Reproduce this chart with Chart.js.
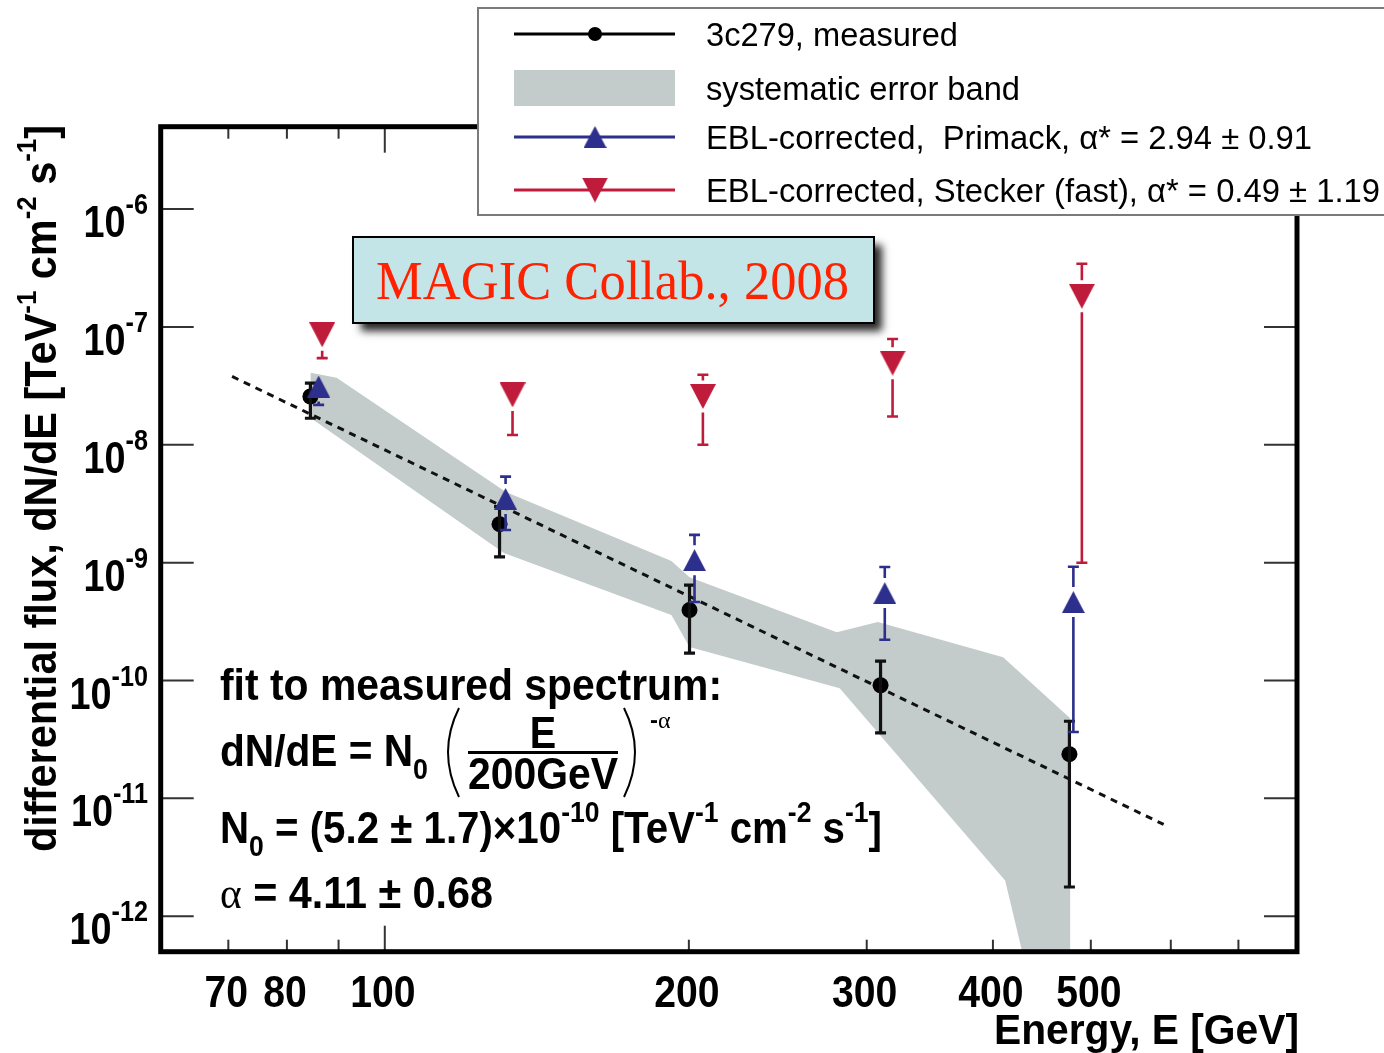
<!DOCTYPE html>
<html><head><meta charset="utf-8">
<script src="https://cdn.jsdelivr.net/npm/chart.js@4.4.1/dist/chart.umd.min.js"></script>
<style>html,body{margin:0;padding:0;background:#fff;}#c{display:block;}</style>
</head><body>
<canvas id="c" width="1384" height="1053" style="width:1384px;height:1053px"></canvas>
<script>
// ---------------- data ----------------
const xTickValues = [70, 80, 90, 100, 200, 300, 400, 500, 600, 700];
const xTickLabels = ['70', '80', '', '100', '200', '300', '400', '500', '', ''];
const yTickExponents = [-6, -7, -8, -9, -10, -11, -12];

const measuredE    = [84.4, 129.9, 200.3, 309.6, 476.2];
const measuredFlux = [2.57e-8, 2.12e-9, 3.96e-10, 9.12e-11, 2.37e-11];
const measuredHi   = [3.34e-8, 2.99e-9, 6.45e-10, 1.46e-10, 4.51e-11];
const measuredLo   = [1.68e-8, 1.12e-9, 1.71e-10, 3.59e-11, 1.77e-12];

const primackE    = [86.0, 131.7, 202.6, 312.6, 480.5];
const primackFlux = [3.12e-8, 3.47e-9, 1.05e-9, 5.52e-10, 4.63e-10];
const primackHi   = [3.78e-8, 5.37e-9, 1.72e-9, 9.18e-10, 9.23e-10];
const primackLo   = [2.18e-8, 1.89e-9, 4.63e-10, 2.22e-10, 3.66e-11];

const steckerE    = [86.7, 133.8, 206.5, 318.2, 489.9];
const steckerFlux = [8.58e-8, 2.65e-8, 2.57e-8, 4.93e-8, 1.82e-7];
const steckerHi   = [9.4e-8, 3.56e-8, 3.93e-8, 7.89e-8, 3.44e-7];
const steckerLo   = [5.44e-8, 1.21e-8, 1.0e-8, 1.74e-8, 9.98e-10];

const bandE    = [84.45, 89.6, 131.8, 192.2, 200.3, 280.2, 307.7, 409.4, 477.0, 477.0, 427.6, 411.3, 282.1, 200.3, 192.2, 131.2, 84.45];
const bandFlux = [4.08e-8, 3.70e-8, 3.98e-9, 1.032e-9, 7.53e-10, 2.57e-10, 3.13e-10, 1.578e-10, 4.78e-11, 5e-13, 5e-13, 2.01e-12, 8.6e-11, 1.92e-10, 3.59e-10, 1.206e-9, 1.69e-8];

const fitE    = [70.6, 590.3];
const fitFlux = [3.80e-8, 6.01e-12];

const legendLabels = [
  '3c279, measured',
  'systematic error band',
  'EBL-corrected,  Primack, \u03b1* = 2.94 \u00b1 0.91',
  'EBL-corrected, Stecker (fast), \u03b1* = 0.49 \u00b1 1.19'
];

// ---------------- styles ----------------
const COL = { black: '#000000', blue: '#2c2f8c', red: '#bf1b3b', band: '#c3cbcb',
  magicFill: '#c4e5e7', magicText: '#ff2200', tick: '#333333' };
const SANS = '"Liberation Sans", Arial, Helvetica, sans-serif';
const SERIF = '"Liberation Serif", "Times New Roman", serif';
const F = (size, bold) => (bold ? 'bold ' : '') + size + 'px ' + SANS;

function triCanvas(color, w, h, down) {
  const c = document.createElement('canvas'); c.width = w; c.height = h;
  const g = c.getContext('2d'); g.fillStyle = color; g.beginPath();
  if (!down) { g.moveTo(w / 2, 0); g.lineTo(w, h); g.lineTo(0, h); }
  else { g.moveTo(0, 0); g.lineTo(w, 0); g.lineTo(w / 2, h); }
  g.closePath(); g.fill(); return c;
}
const upTri = triCanvas(COL.blue, 23, 22, false);
const downTri = triCanvas(COL.red, 26, 25, true);
const pts = (xs, ys) => xs.map((x, i) => ({ x: x, y: ys[i] }));

function richWidth(ctx, segs) {
  let w = 0;
  segs.forEach(s => { ctx.font = s.font; w += ctx.measureText(s.t).width + (s.pad || 0); });
  return w;
}
function drawRich(ctx, x, y, segs, opts) {
  opts = opts || {};
  const nat = richWidth(ctx, segs);
  const sx = opts.width ? opts.width / nat : (opts.sx || 1);
  const total = nat * sx;
  let x0 = x;
  if (opts.align === 'right') x0 = x - total; else if (opts.align === 'center') x0 = x - total / 2;
  ctx.save(); ctx.translate(x0, y); ctx.scale(sx, 1);
  ctx.textAlign = 'left'; ctx.textBaseline = 'alphabetic';
  let cx = 0;
  segs.forEach(s => {
    ctx.font = s.font; ctx.fillStyle = s.color || opts.color || '#000';
    ctx.fillText(s.t, cx, s.dy || 0);
    cx += ctx.measureText(s.t).width + (s.pad || 0);
  });
  ctx.restore();
}
function seg(t, font, dy, pad) { return { t: t, font: font, dy: dy || 0, pad: pad || 0 }; }
function line(ctx, x1, y1, x2, y2) { ctx.beginPath(); ctx.moveTo(x1, y1); ctx.lineTo(x2, y2); ctx.stroke(); }

// ---------------- error bars ----------------
const errorBars = {
  id: 'errorBars',
  afterDatasetDraw(chart, args) {
    const ds = chart.data.datasets[args.index];
    if (!ds.errHi) return;
    const ctx = chart.ctx, xs = chart.scales.x, ys = chart.scales.y, a = chart.chartArea;
    ctx.save();
    ctx.beginPath(); ctx.rect(a.left, a.top, a.right - a.left, a.bottom - a.top); ctx.clip();
    ctx.strokeStyle = ds.errColor; ctx.lineWidth = ds.errWidth || 2.6; ctx.lineCap = 'butt';
    ds.data.forEach((p, i) => {
      const px = xs.getPixelForValue(p.x), py = ys.getPixelForValue(p.y);
      const yh = ys.getPixelForValue(ds.errHi[i]), yl = ys.getPixelForValue(ds.errLo[i]);
      const g = ds.errGap;
      if (py - yh > g + 2) { line(ctx, px, py - g, px, yh); line(ctx, px - 5.5, yh, px + 5.5, yh); }
      if (yl - py > g + 2) { line(ctx, px, py + g, px, yl); line(ctx, px - 5.5, yl, px + 5.5, yl); }
    });
    ctx.restore();
  }
};

// ---------------- decorations ----------------
const decorations = {
  id: 'decorations',
  afterDraw(chart) {
    const ctx = chart.ctx, a = chart.chartArea, xs = chart.scales.x, ys = chart.scales.y;
    ctx.save();
    // ticks
    ctx.strokeStyle = COL.tick; ctx.lineWidth = 2;
    yTickExponents.forEach(e => {
      const py = ys.getPixelForValue(Math.pow(10, e));
      line(ctx, a.left, py, a.left + 33, py);
      line(ctx, a.right - 33, py, a.right, py);
    });
    xTickValues.forEach(v => {
      const px = xs.getPixelForValue(v);
      const L = (v === 100) ? 26 : 12;
      line(ctx, px, a.bottom, px, a.bottom - L);
      line(ctx, px, a.top, px, a.top + L);
    });
    // frame
    ctx.strokeStyle = '#000'; ctx.lineWidth = 5;
    ctx.strokeRect(a.left, a.top, a.right - a.left, a.bottom - a.top);

    // y tick labels
    yTickExponents.forEach(e => {
      const py = ys.getPixelForValue(Math.pow(10, e));
      drawRich(ctx, 148, py + 28, [seg('10', F(45, true)), seg(String(e), F(30, true), -23)], { align: 'right', sx: 0.84 });
    });
    // x tick labels
    xTickValues.forEach((v, i) => {
      if (!xTickLabels[i]) return;
      const px = xs.getPixelForValue(v);
      drawRich(ctx, px - 2, 1007, [seg(xTickLabels[i], F(45, true))], { align: 'center', sx: 0.87 });
    });
    // axis titles
    drawRich(ctx, 1299, 1044, [seg('Energy, E [GeV]', F(42, true))], { align: 'right', width: 305 });
    ctx.save(); ctx.translate(56, 852); ctx.rotate(-Math.PI / 2);
    drawRich(ctx, 0, 0, [
      seg('differential flux, dN/dE [TeV', F(45, true)), seg('-1', F(28, true), -20),
      seg(' cm', F(45, true)), seg('-2', F(28, true), -20),
      seg(' s', F(45, true)), seg('-1', F(28, true), -20), seg(']', F(45, true))
    ], { width: 727 });
    ctx.restore();

    // MAGIC box
    ctx.save();
    ctx.shadowColor = 'rgba(0,0,0,0.85)'; ctx.shadowBlur = 8; ctx.shadowOffsetX = 8; ctx.shadowOffsetY = 8;
    ctx.fillStyle = COL.magicFill; ctx.fillRect(353, 237, 521, 86);
    ctx.restore();
    ctx.strokeStyle = '#000'; ctx.lineWidth = 2; ctx.strokeRect(353, 237, 521, 86);
    drawRich(ctx, 376, 299, [seg('MAGIC Collab., 2008', '55px ' + SERIF)], { width: 473, color: COL.magicText });

    // legend
    ctx.fillStyle = '#fff'; ctx.fillRect(478, 8, 930, 207);
    ctx.strokeStyle = '#7a7a7a'; ctx.lineWidth = 2; ctx.strokeRect(478, 8, 930, 207);
    const rowsY = [34, 88, 137, 190];
    ctx.lineWidth = 3;
    ctx.strokeStyle = COL.black; line(ctx, 514, rowsY[0], 675, rowsY[0]);
    ctx.fillStyle = COL.black; ctx.beginPath(); ctx.arc(595, rowsY[0], 7, 0, Math.PI * 2); ctx.fill();
    ctx.fillStyle = COL.band; ctx.fillRect(514, rowsY[1] - 18, 161, 36);
    ctx.strokeStyle = COL.blue; line(ctx, 514, rowsY[2], 675, rowsY[2]);
    ctx.drawImage(upTri, 595 - 11.5, rowsY[2] - 11);
    ctx.strokeStyle = COL.red; line(ctx, 514, rowsY[3], 675, rowsY[3]);
    ctx.drawImage(downTri, 595 - 13, rowsY[3] - 12.5);
    const legendWidths = [252, 314, 606, 674];
    legendLabels.forEach((t, i) => {
      drawRich(ctx, 706, rowsY[i] + 12, [seg(t, F(34, false))], { width: legendWidths[i] });
    });

    // fit annotation
    const B = F(44, true), SB = F(29, true);
    drawRich(ctx, 220, 700, [seg('fit to measured spectrum:', B)], { width: 502 });
    drawRich(ctx, 220, 766, [seg('dN/dE = N', B), seg('0', SB, 13)], { width: 208 });
    drawRich(ctx, 543, 748, [seg('E', F(44, true))], { align: 'center', sx: 0.9 });
    ctx.fillStyle = '#000'; ctx.fillRect(468, 751, 150, 3);
    drawRich(ctx, 543, 789, [seg('200GeV', B)], { align: 'center', width: 150 });
    ctx.strokeStyle = '#000'; ctx.lineWidth = 2;
    ctx.beginPath(); ctx.moveTo(459, 708); ctx.quadraticCurveTo(437, 752, 459, 797); ctx.stroke();
    ctx.beginPath(); ctx.moveTo(624, 708); ctx.quadraticCurveTo(646, 752, 624, 797); ctx.stroke();
    drawRich(ctx, 650, 728, [seg('-', F(24, true)), seg('\u03b1', '24px ' + SERIF)]);
    drawRich(ctx, 220, 843, [
      seg('N', B), seg('0', SB, 13), seg(' = (5.2 \u00b1 1.7)\u00d710', B), seg('-10', SB, -21),
      seg(' [TeV', B), seg('-1', SB, -21), seg(' cm', B), seg('-2', SB, -21), seg(' s', B), seg('-1', SB, -21), seg(']', B)
    ], { width: 662 });
    drawRich(ctx, 220, 908, [seg('\u03b1', '44px ' + SERIF), seg(' = 4.11 \u00b1 0.68', B)], { width: 273 });
    ctx.restore();
  }
};

// ---------------- chart ----------------
new Chart(document.getElementById('c').getContext('2d'), {
  type: 'scatter',
  data: {
    datasets: [
      { label: 'Stecker', data: pts(steckerE, steckerFlux), pointStyle: downTri, pointRadius: 10, order: 1,
        errHi: steckerHi, errLo: steckerLo, errColor: COL.red, errGap: 16 },
      { label: 'Primack', data: pts(primackE, primackFlux), pointStyle: upTri, pointRadius: 10, order: 2,
        errHi: primackHi, errLo: primackLo, errColor: COL.blue, errGap: 15 },
      { label: 'measured', data: pts(measuredE, measuredFlux), pointStyle: 'circle', pointRadius: 8,
        backgroundColor: COL.black, borderColor: COL.black, borderWidth: 0, order: 3,
        errHi: measuredHi, errLo: measuredLo, errColor: '#111', errGap: 0, errWidth: 3.2 },
      { label: 'fit', data: pts(fitE, fitFlux), showLine: true, borderColor: '#111', borderWidth: 3,
        borderDash: [7, 6], pointRadius: 0, order: 4 },
      { label: 'band', data: pts(bandE, bandFlux), showLine: true, borderWidth: 0, borderColor: 'rgba(0,0,0,0)',
        backgroundColor: COL.band, fill: 'shape', pointRadius: 0, order: 5 }
    ]
  },
  options: {
    responsive: false, animation: false, devicePixelRatio: 1, events: [],
    layout: { padding: { left: 160.7, top: 126.7, right: 87, bottom: 101.3 } },
    scales: {
      x: { type: 'logarithmic', min: 60, max: 800, display: false },
      y: { type: 'logarithmic', min: 5e-13, max: 5e-6, display: false }
    },
    plugins: { legend: { display: false }, tooltip: { enabled: false } }
  },
  plugins: [errorBars, decorations]
});
</script>
</body></html>
